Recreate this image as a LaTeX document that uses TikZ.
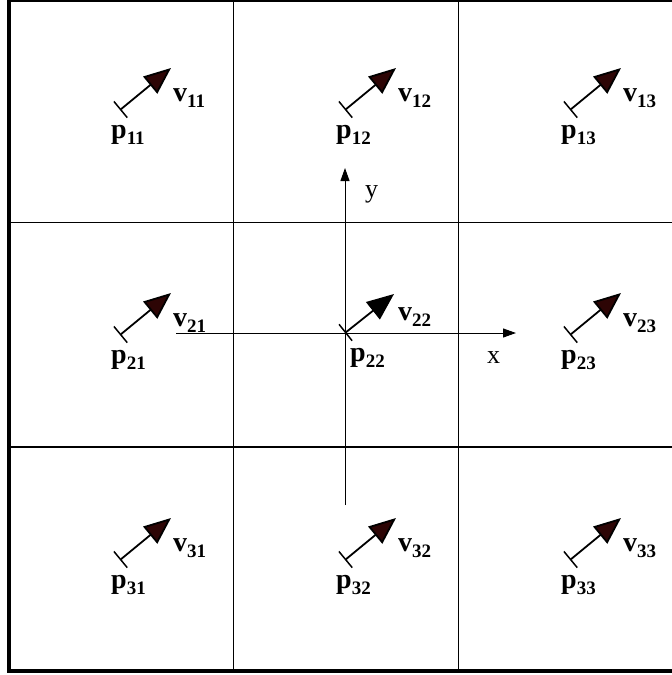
\documentclass[tikz,border=0pt]{standalone}
\usepackage{fontspec}
\setmainfont{Liberation Serif}
\usetikzlibrary{arrows.meta}
\definecolor{headcol}{RGB}{45,5,5}
\tikzset{
  gridline/.style={line width=1.1pt, black},
  frameline/.style={line width=#1, black},
  vec/.style={line width=1.8pt, line join=miter},
  axis/.style={line width=1pt, -{Triangle[length=13pt,width=9pt]}},
  lab/.style={inner sep=0pt, anchor=base west, font=\fontsize{28}{30}\selectfont},
}
\newcommand\lbl[2]{\textbf{#1}\raisebox{-6pt}{\fontsize{19}{19}\selectfont\bfseries #2}}
\newcommand\mycell[4]{%
  \coordinate (t#1) at (#2,#3);
  \coordinate (h#1) at ({#2+51},{#3-42});
  \draw[vec, {Bar[width=21pt,line width=1.5pt]}-{Triangle[length=27pt,width=22pt,fill=#4]}] (t#1) -- (h#1);
  \node[lab] (v#1) at ({#2+53},{#3-9}) {\lbl{v}{#1}};
  \node[lab] (p#1) at ({#2-9},{#3+28}) {\lbl{p}{#1}};
}
\begin{document}
\begin{tikzpicture}[x=1pt,y=-1pt]
\useasboundingbox (0,0) rectangle (672,675);
% grid
\coordinate (gv1t) at (233.3,1); \coordinate (gv1b) at (233.3,670);
\coordinate (gv2t) at (458.3,1); \coordinate (gv2b) at (458.3,670);
\coordinate (gh1l) at (9,222.3); \coordinate (gh1r) at (672,222.3);
\coordinate (gh2l) at (9,447); \coordinate (gh2r) at (672,447);
\draw[gridline] (gv1t) -- (gv1b);
\draw[gridline] (gv2t) -- (gv2b);
\draw[gridline] (gh1l) -- (gh1r);
\draw[gridline] (gh2l) -- (gh2r);
% frame
\coordinate (ftl) at (9,1); \coordinate (ftr) at (672,1);
\coordinate (fbl) at (9,670.5); \coordinate (fbr) at (672,670.5);
\draw[frameline=2.5pt] (ftl) -- (ftr);
\draw[frameline=4pt, line cap=rect] (ftl) -- (fbl) -- (fbr);
% axes
\coordinate (ys) at (345,505); \coordinate (ye) at (345,168);
\coordinate (xs) at (176,333); \coordinate (xe) at (516,333);
\draw[axis] (ys) -- (ye);
\draw[axis] (xs) -- (xe);
\node[lab, font=\fontsize{26}{28}\selectfont] (ylab) at (365,197) {y};
\node[lab, font=\fontsize{26}{28}\selectfont] (xlab) at (487,363) {x};
% cells
\mycell{11}{120}{110}{headcol}
\mycell{12}{345}{110}{headcol}
\mycell{13}{570}{110}{headcol}
\mycell{21}{120}{335}{headcol}
\mycell{23}{570}{335}{headcol}
\mycell{31}{120}{560}{headcol}
\mycell{32}{345}{560}{headcol}
\mycell{33}{570}{560}{headcol}
% centre cell
\coordinate (t22) at (345,333);
\coordinate (h22) at (394,294);
\draw[vec, {Bar[width=21pt,line width=1.5pt]}-{Triangle[length=27pt,width=22pt,fill=black]}] (t22) -- (h22);
\node[lab] (v22) at (398,320) {\lbl{v}{22}};
\node[lab] (p22) at (350,361) {\lbl{p}{22}};
\end{tikzpicture}
\end{document}
